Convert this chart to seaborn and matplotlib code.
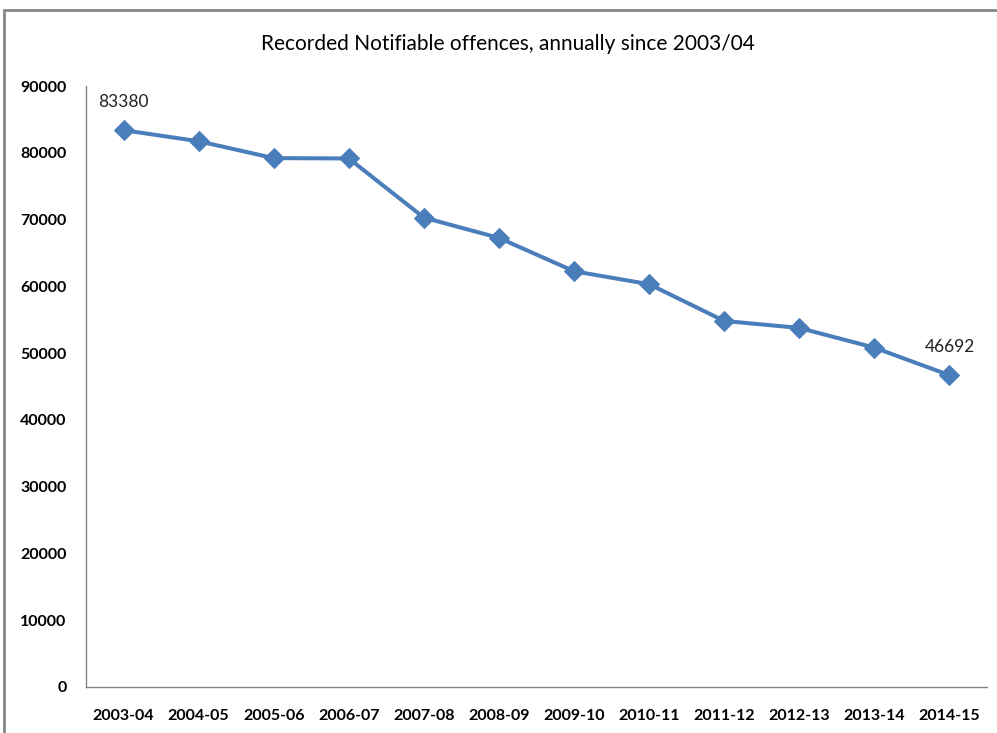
import matplotlib
matplotlib.use('Agg')
import matplotlib.pyplot as plt
import seaborn as sns
import pandas as pd
import numpy as np
from matplotlib.patches import Rectangle
from matplotlib.ticker import FixedLocator

# 数据
years = ['2003-04', '2004-05', '2005-06', '2006-07', '2007-08', '2008-09',
         '2009-10', '2010-11', '2011-12', '2012-13', '2013-14', '2014-15']
offences = [83380, 81730, 79200, 79150, 70290, 67250,
            62260, 60320, 54820, 53770, 50820, 46692]
labelled = {0: '83380', 11: '46692'}

sns.set_style('white')
plt.rcParams['font.family'] = ['Lato', 'DejaVu Sans']

df = pd.DataFrame({'year': years, 'offences': offences})

fig = plt.figure(figsize=(9.97, 7.33), dpi=100)
ax = fig.add_axes([86 / 997, 46 / 733, 901 / 997, 601 / 733])

line_color = '#4A7EBB'
sns.lineplot(data=df, x='year', y='offences', ax=ax, sort=False,
             color=line_color, linewidth=2.9, marker='D', markersize=10,
             markeredgecolor=line_color)

ax.set_xlim(-0.5, len(years) - 0.5)
ax.set_ylim(0, 90000)
ax.set_yticks(np.arange(0, 90001, 10000))
ax.set_xlabel('')
ax.set_ylabel('')

# x 轴：标签在中间，刻度线在类别边界
ax.set_xticks(range(len(years)))
ax.set_xticklabels(years, fontweight='bold', fontsize=11.5, color='black')
ax.xaxis.set_minor_locator(FixedLocator(np.arange(-0.5, len(years), 1)))
ax.tick_params(axis='x', which='major', length=0, pad=16)
ax.tick_params(axis='x', which='minor', length=6, color='#868686', width=1, direction='out')
ax.tick_params(axis='y', length=5, color='#868686', width=1, direction='out', pad=9)
for lab in ax.get_yticklabels():
    lab.set_fontweight('bold')
    lab.set_fontsize(11.5)
    lab.set_color('black')

for side in ['top', 'right']:
    ax.spines[side].set_visible(False)
for side in ['left', 'bottom']:
    ax.spines[side].set_color('#868686')
    ax.spines[side].set_linewidth(1)

# 数据标签
for i, txt in labelled.items():
    ax.annotate(txt, (i, offences[i]), xytext=(0, 20), textcoords='offset points',
                ha='center', va='center', fontsize=12.5, color='#222222')

fig.text(508 / 997, 1 - 44 / 733, 'Recorded Notifiable offences, annually since 2003/04',
         ha='center', va='center', fontsize=15, color='black')

# 外框
fig.patches.append(Rectangle((4 / 997, -0.05), 1.1, 1 - 9.5 / 733 + 0.05,
                             transform=fig.transFigure, fill=False,
                             edgecolor='#868686', linewidth=2))

fig.savefig('out.png', dpi=100)
plt.close(fig)
